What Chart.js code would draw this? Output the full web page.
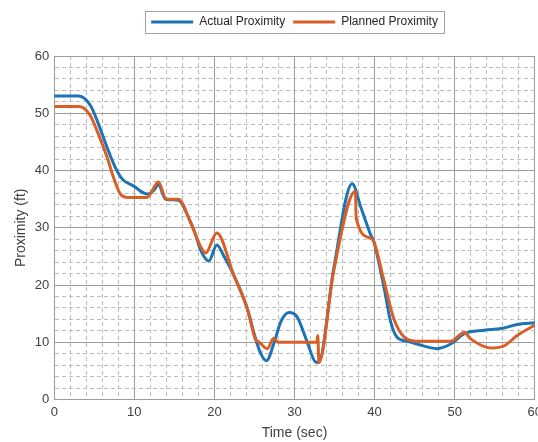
<!DOCTYPE html>
<html>
<head>
<meta charset="utf-8">
<script src="https://cdn.jsdelivr.net/npm/chart.js@4/dist/chart.umd.min.js"></script>
<style>
  html, body { margin: 0; padding: 0; background: #fff; overflow: hidden; }
  #wrap { position: relative; width: 547px; height: 442px; }
</style>
</head>
<body>
<div id="wrap"><canvas id="proximityChart"></canvas></div>
<script>
// Time stamps (sec) and proximity (ft)
const timeActual = [0, 3, 4.5, 5.5, 6.6, 7.6, 8.5, 9.9, 11.6, 12.4, 13, 13.9, 15.5, 16.8, 17.6, 18.3, 19.3, 20.3, 21.2, 22.4, 24.1, 25.1, 25.8, 26.5, 27.4, 28.3, 29.3, 30.3, 31.6, 32.6, 33.0, 34.9, 37.2, 38.3, 39.5, 39.9, 41.2, 42.0, 42.8, 44.1, 45.3, 47.8, 49.5, 51.2, 53.7, 55.8, 57.8, 60];
const actualProximity = [53, 53, 51.4, 48.2, 44, 40.6, 38.5, 37.3, 35.9, 36.5, 37.5, 35, 34.8, 31.7, 29, 26, 24.2, 27, 25, 21.8, 15.9, 10.8, 8, 6.8, 9.7, 13.6, 15.2, 14.5, 10, 6.6, 6.5, 22.9, 37.7, 33.5, 28.8, 27.6, 19.4, 13.6, 10.9, 10.2, 9.7, 8.9, 9.7, 11.5, 12.1, 12.4, 13.1, 13.4];

const timePlanned = [0, 3, 3.7, 4.5, 5.5, 6.6, 7.4, 8.25, 9.2, 11.6, 13, 14, 15.5, 17, 18.25, 18.9, 20.3, 22.4, 24.1, 25.1, 25.6, 26.6, 27.4, 28, 32.8, 32.9, 33.05, 34.9, 37.6, 37.7, 39.5, 39.9, 41.2, 42.4, 43.7, 45.3, 49.5, 51.2, 52, 54.5, 56.2, 57.8, 60];
const plannedProximity = [51.2, 51.2, 50.9, 49.6, 46.4, 42.3, 38.8, 35.9, 35.3, 35.3, 38, 35, 35, 31, 26.8, 25.6, 29.1, 21.8, 15.9, 10.6, 10, 8.9, 10.7, 10, 10, 11.2, 6.5, 22.5, 36.4, 31.7, 28.2, 27.6, 20.6, 14.1, 10.9, 10.2, 10.2, 11.7, 10.6, 9.0, 9.4, 11.2, 13];

const xTickLabels = [0, 10, 20, 30, 40, 50, 60];
const yTickLabels = [0, 10, 20, 30, 40, 50, 60];

const MAJOR = '#9c9c9c';
const MINOR = '#bdbdbd';
const FONT = '"Liberation Sans", Arial, sans-serif';

// Pair up times and values for the linear x axis
function toPoints(times, values) {
    return times.map((t, i) => ({ x: t, y: values[i] }));
}

// Solid major lines every 10, dashed minor lines every 2
function gridAxis(labels, title) {
    return {
        type: 'linear',
        min: 0,
        max: 60,
        ticks: {
            stepSize: 2,
            autoSkip: false,
            maxRotation: 0,
            padding: 5,
            color: '#404040',
            font: { family: FONT, size: 13 },
            callback: value => labels.includes(value) ? value : ''
        },
        grid: {
            drawTicks: false,
            lineWidth: 1,
            color: ctx => (ctx.tick && ctx.tick.value % 10 === 0) ? MAJOR : MINOR
        },
        border: {
            display: true,
            color: MAJOR,
            dash: ctx => (ctx.tick && ctx.tick.value % 10 !== 0) ? [4, 3] : []
        },
        title: {
            display: true,
            text: title,
            color: '#404040',
            font: { family: FONT, size: 14 },
            padding: { top: 0, bottom: 0 }
        }
    };
}

// Box around the legend, like the original figure
const legendBox = {
    id: 'legendBox',
    beforeInit(chart) {
        const fit = chart.legend.fit;
        chart.legend.fit = function () {
            fit.bind(chart.legend)();
            this.height += 18;
        };
    },
    afterDraw(chart) {
        const boxes = chart.legend && chart.legend.legendHitBoxes;
        if (!boxes || !boxes.length) return;
        const left = Math.min(...boxes.map(b => b.left)) - 6;
        const right = Math.max(...boxes.map(b => b.left + b.width)) + 6;
        const top = Math.min(...boxes.map(b => b.top)) - 5;
        const bottom = Math.max(...boxes.map(b => b.top + b.height)) + 5;
        const ctx = chart.ctx;
        ctx.save();
        ctx.strokeStyle = '#a0a0a0';
        ctx.lineWidth = 1;
        ctx.strokeRect(Math.round(left) + 0.5, Math.round(top) + 0.5, Math.round(right - left), Math.round(bottom - top));
        ctx.restore();
    }
};

new Chart(document.getElementById('proximityChart'), {
    type: 'line',
    data: {
        datasets: [{
            label: 'Actual Proximity',
            data: toPoints(timeActual, actualProximity),
            borderColor: '#1c74b4',
            backgroundColor: '#1c74b4',
            borderWidth: 3,
            pointRadius: 0,
            cubicInterpolationMode: 'monotone',
            order: 2
        }, {
            label: 'Planned Proximity',
            data: toPoints(timePlanned, plannedProximity),
            borderColor: '#d95f27',
            backgroundColor: '#d95f27',
            borderWidth: 3,
            pointRadius: 0,
            cubicInterpolationMode: 'monotone',
            order: 1
        }]
    },
    options: {
        responsive: true,
        maintainAspectRatio: false,
        animation: false,
        layout: { padding: { left: 13, right: 0, top: 8, bottom: 0 } },
        plugins: {
            legend: {
                display: true,
                position: 'top',
                fullSize: false,
                reverse: true,
                labels: {
                    usePointStyle: true,
                    pointStyle: 'line',
                    pointStyleWidth: 42,
                    padding: 8,
                    color: '#262626',
                    font: { family: FONT, size: 12 }
                }
            },
            tooltip: { enabled: false }
        },
        scales: {
            x: gridAxis(xTickLabels, 'Time (sec)'),
            y: gridAxis(yTickLabels, 'Proximity (ft)')
        }
    },
    plugins: [legendBox]
});
</script>
</body>
</html>
